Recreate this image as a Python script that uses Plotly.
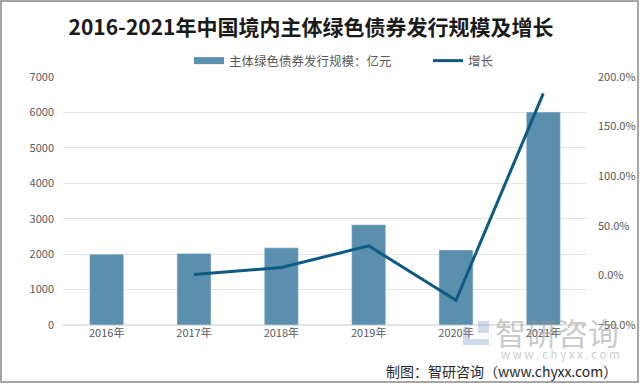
import plotly.graph_objects as go

years = ["2016年", "2017年", "2018年", "2019年", "2020年", "2021年"]
scale = [2000, 2020, 2180, 2830, 2120, 6010]
growth = [None, 1.0, 7.9, 29.8, -25.1, 183.5]

L, R, T, B = 63, 53, 77, 59
W, H = 640, 384
pw, ph = W - L - R, H - T - B


def px(x):
    return (x - L) / pw


def py(y):
    return (H - B - y) / ph


font = "Noto Sans CJK SC"
bar_color = "#5a8fae"
fig = go.Figure()
fig.add_bar(x=years, y=scale, name="主体绿色债券发行规模：亿元",
            marker_color=bar_color, width=0.39, showlegend=False)
fig.add_scatter(x=[None], y=[None], mode="lines", name="主体绿色债券发行规模：亿元",
                line=dict(color=bar_color, width=7), hoverinfo="skip")
fig.add_scatter(x=years, y=growth, yaxis="y2", mode="lines", name="增长",
                line=dict(color="#0e5b82", width=3))

fig.update_layout(
    width=W, height=H,
    margin=dict(l=L, r=R, t=T, b=B, autoexpand=False),
    paper_bgcolor="white", plot_bgcolor="white",
    font=dict(family=font, color="#595959", size=11),
    title=dict(text="<b>2016-2021年中国境内主体绿色债券发行规模及增长</b>",
               x=311 / W, xanchor="center", y=1 - 28 / H, yanchor="middle",
               font=dict(size=21, color="#1a1a1a", family=font)),
    legend=dict(orientation="h", x=px(189), xanchor="left", y=py(61), yanchor="middle",
                font=dict(size=12.5, color="#595959"), entrywidth=194, bgcolor="rgba(0,0,0,0)"),
    bargap=0.6,
    xaxis=dict(showgrid=False, showline=False, ticks="", tickfont=dict(size=11)),
    yaxis=dict(range=[0, 7000], dtick=1000, showgrid=True, gridcolor="#e3e3e3",
               zeroline=True, zerolinecolor="#e3e3e3", ticks="", tickformat="d", ticklabelstandoff=8),
    yaxis2=dict(range=[-50, 200], dtick=50, overlaying="y", side="right", showgrid=False,
                zeroline=False, ticksuffix="%", tickformat=".1f", ticks="", ticklabelstandoff=10),
    showlegend=True,
)

wm = "rgba(150,150,155,0.5)"
fig.add_annotation(text="智研咨询", xref="paper", yref="paper", x=px(557), y=py(331),
                   xanchor="center", yanchor="middle",
                   showarrow=False, font=dict(size=31, color=wm, family=font))
fig.add_annotation(text="w w w . c h y x x . c o m", xref="paper", yref="paper", x=px(560), y=py(354),
                   xanchor="center", yanchor="middle",
                   showarrow=False, font=dict(size=11.5, color=wm, family=font))
fig.add_annotation(text="制图：智研咨询（www.chyxx.com）", xref="paper", yref="paper",
                   x=px(619), y=py(371), xanchor="right", yanchor="middle", showarrow=False,
                   font=dict(size=14, color="#262626", family=font))
# watermark logo
logo = "rgba(130,160,200,0.38)"
for x0, x1, y0, y1 in [(463, 470, 327, 345), (470, 489, 339, 345), (478, 489, 321, 333)]:
    fig.add_shape(type="rect", xref="paper", yref="paper", x0=px(x0), x1=px(x1), y0=py(y1), y1=py(y0),
                  fillcolor=logo, line_width=0)
# border
fig.add_shape(type="rect", xref="paper", yref="paper", x0=px(1), x1=px(638), y0=py(382), y1=py(1),
              line=dict(color="#a6a6a6", width=2), fillcolor="rgba(0,0,0,0)")

fig.write_html("out.html", config={"displayModeBar": False},
               post_script="document.body.style.margin='0';document.body.style.padding='0';")
